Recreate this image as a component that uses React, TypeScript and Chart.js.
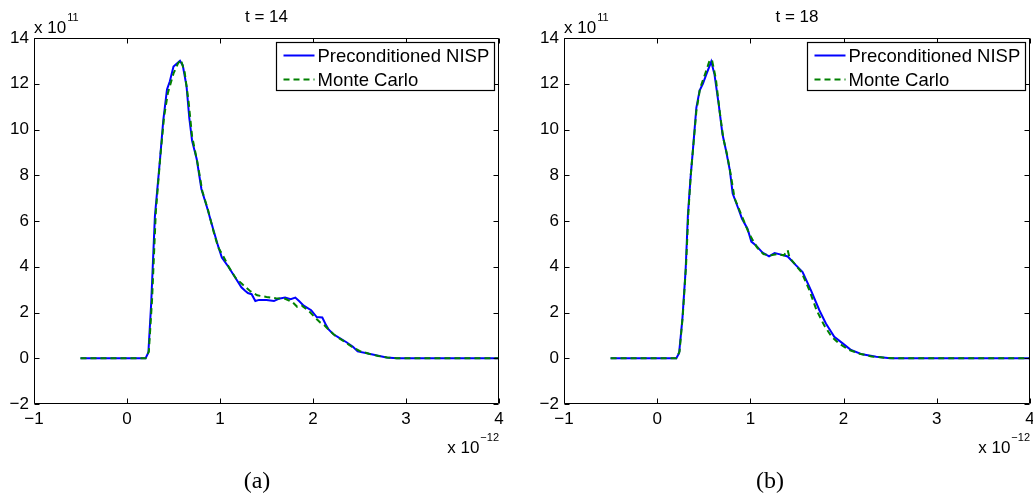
import { useEffect, useRef } from 'react';
import { Chart, registerables } from 'chart.js';

Chart.register(...registerables);

// Density profiles (values in units of 1e11, x in units of 1e-12)
const nispX14 = [-0.5, 0.0, 0.2, 0.23, 0.26, 0.3, 0.355, 0.39, 0.43, 0.46, 0.5, 0.57, 0.6, 0.64, 0.67, 0.7, 0.75, 0.8, 0.86, 0.93, 0.98, 1.02, 1.09, 1.16, 1.23, 1.27, 1.3, 1.34, 1.38, 1.42, 1.5, 1.58, 1.63, 1.7, 1.76, 1.81, 1.85, 1.9, 1.98, 2.04, 2.1, 2.14, 2.17, 2.22, 2.3, 2.36, 2.43, 2.48, 2.58, 2.69, 2.79, 2.9, 4.0];
const nispY14 = [0, 0, 0, 0.25, 2.4, 6.2, 8.7, 10.4, 11.75, 12.1, 12.75, 13.0, 12.8, 11.9, 10.5, 9.5, 8.7, 7.4, 6.6, 5.6, 4.9, 4.4, 4.0, 3.55, 3.1, 2.95, 2.85, 2.8, 2.5, 2.55, 2.55, 2.5, 2.6, 2.65, 2.58, 2.65, 2.5, 2.3, 2.1, 1.8, 1.78, 1.45, 1.25, 1.05, 0.85, 0.7, 0.5, 0.3, 0.22, 0.12, 0.03, 0, 0];
const mcX14 = [-0.5, 0.2, 0.235, 0.27, 0.31, 0.36, 0.4, 0.44, 0.5, 0.55, 0.58, 0.62, 0.66, 0.7, 0.76, 0.81, 0.87, 0.93, 0.98, 1.03, 1.1, 1.17, 1.25, 1.32, 1.4, 1.5, 1.6, 1.7, 1.78, 1.83, 1.88, 1.96, 2.03, 2.08, 2.12, 2.18, 2.25, 2.33, 2.42, 2.5, 2.6, 2.7, 2.8, 2.9, 4.0];
const mcY14 = [0, 0, 0.3, 2.6, 6.4, 8.9, 10.6, 11.6, 12.45, 12.9, 13.05, 12.5, 11.3, 9.7, 8.5, 7.3, 6.5, 5.55, 4.85, 4.5, 3.95, 3.5, 3.2, 2.95, 2.75, 2.68, 2.62, 2.6, 2.45, 2.25, 2.3, 2.05, 1.75, 1.55, 1.45, 1.2, 0.95, 0.75, 0.5, 0.32, 0.2, 0.1, 0.03, 0, 0];

const nispX18 = [-0.5, 0.205, 0.235, 0.27, 0.305, 0.33, 0.358, 0.385, 0.42, 0.455, 0.49, 0.526, 0.58, 0.615, 0.66, 0.7, 0.74, 0.78, 0.81, 0.865, 0.91, 0.97, 1.01, 1.06, 1.13, 1.2, 1.26, 1.33, 1.4, 1.49, 1.56, 1.65, 1.74, 1.81, 1.9, 1.99, 2.08, 2.2, 2.35, 2.5, 4.0];
const nispY18 = [0, 0, 0.22, 1.7, 3.85, 6.3, 7.9, 9.2, 10.95, 11.7, 12.0, 12.4, 12.97, 12.4, 11.1, 9.8, 9.05, 8.2, 7.2, 6.6, 6.1, 5.65, 5.1, 4.93, 4.62, 4.45, 4.6, 4.53, 4.45, 4.06, 3.77, 2.97, 2.1, 1.52, 0.94, 0.65, 0.36, 0.17, 0.07, 0, 0];
const mcX18 = [-0.5, 0.205, 0.24, 0.275, 0.31, 0.335, 0.36, 0.39, 0.42, 0.46, 0.52, 0.565, 0.59, 0.63, 0.67, 0.71, 0.75, 0.79, 0.83, 0.88, 0.93, 0.98, 1.02, 1.07, 1.14, 1.22, 1.29, 1.36, 1.4, 1.42, 1.48, 1.55, 1.63, 1.71, 1.79, 1.87, 1.95, 2.05, 2.17, 2.3, 2.45, 2.55, 4.0];
const mcY18 = [0, 0, 0.3, 1.9, 4.1, 6.4, 8.0, 9.4, 10.8, 11.8, 12.5, 13.05, 13.0, 12.2, 10.8, 9.6, 8.9, 8.0, 7.0, 6.5, 6.0, 5.5, 5.2, 4.85, 4.55, 4.5, 4.55, 4.5, 4.72, 4.4, 4.1, 3.75, 3.0, 2.1, 1.45, 0.95, 0.65, 0.38, 0.2, 0.08, 0.02, 0, 0];

const seriesNames = ['Preconditioned NISP', 'Monte Carlo'];
const panelTitles = ['t = 14', 't = 18'];
const panelLetters = ['(a)', '(b)'];
const yExponent = '11';
const xExponent = '\u221212';

const SANS = '"Liberation Sans", Arial, Helvetica, sans-serif';
const SERIF = '"Liberation Serif", "Times New Roman", serif';

const toPoints = (xs: number[], ys: number[]) => xs.map((x, i) => ({ x, y: ys[i] }));
const fmtTick = (v: number | string) => String(v).replace('-', '\u2212');

type PanelProps = {
  left: number;
  width: number;
  yAxisWidth: number;
  padRight: number;
  letterX: number;
  title: string;
  letter: string;
  nisp: any[];
  mc: any[];
};

function makeFramePlugin(title: string, letter: string, letterX: number) {
  return {
    id: 'matlabFrame',
    afterDraw(chart: any) {
      const { ctx, chartArea: a, scales } = chart;
      const xs = scales.x;
      const ys = scales.y;
      const L = Math.round(a.left) + 0.5;
      const R = Math.round(a.right) - 0.5;
      const T = Math.round(a.top) + 0.5;
      const B = Math.round(a.bottom) - 0.5;
      ctx.save();

      // axes box with inward ticks on every side
      ctx.strokeStyle = '#000';
      ctx.lineWidth = 1;
      ctx.beginPath();
      ctx.rect(L, T, R - L, B - T);
      const tick = 5;
      xs.ticks.forEach((t: any) => {
        const p = Math.round(xs.getPixelForValue(t.value)) + 0.5;
        ctx.moveTo(p, B);
        ctx.lineTo(p, B - tick);
        ctx.moveTo(p, T);
        ctx.lineTo(p, T + tick);
      });
      ys.ticks.forEach((t: any) => {
        const p = Math.round(ys.getPixelForValue(t.value)) + 0.5;
        ctx.moveTo(L, p);
        ctx.lineTo(L + tick, p);
        ctx.moveTo(R, p);
        ctx.lineTo(R - tick, p);
      });
      ctx.stroke();

      // legend box
      const boxW = 218;
      const boxH = 48;
      const bx = Math.round(a.right - 5 - boxW) + 0.5;
      const by = Math.round(a.top + 4) + 0.5;
      ctx.fillStyle = '#fff';
      ctx.fillRect(bx, by, boxW, boxH);
      ctx.strokeStyle = '#000';
      ctx.lineWidth = 1.2;
      ctx.strokeRect(bx, by, boxW, boxH);
      chart.data.datasets.forEach((ds: any, i: number) => {
        const rowY = by + 13 + i * 24;
        ctx.beginPath();
        ctx.strokeStyle = ds.borderColor;
        ctx.lineWidth = ds.borderWidth;
        ctx.setLineDash(ds.borderDash || []);
        ctx.moveTo(bx + 7, rowY);
        ctx.lineTo(bx + 38, rowY);
        ctx.stroke();
        ctx.setLineDash([]);
        ctx.fillStyle = '#000';
        ctx.font = `18.5px ${SANS}`;
        ctx.textAlign = 'left';
        ctx.textBaseline = 'middle';
        ctx.fillText(ds.label, bx + 41, rowY + 1);
      });

      // title
      ctx.fillStyle = '#000';
      ctx.font = `17px ${SANS}`;
      ctx.textAlign = 'center';
      ctx.textBaseline = 'middle';
      ctx.fillText(title, (a.left + a.right) / 2, 17);

      // y exponent
      ctx.textAlign = 'left';
      ctx.textBaseline = 'alphabetic';
      ctx.font = `17px ${SANS}`;
      ctx.fillText('x 10', a.left, 33);
      const w10 = ctx.measureText('x 10').width;
      ctx.font = `11px ${SANS}`;
      ctx.fillText(yExponent, a.left + w10 + 1, 21);

      // x exponent
      ctx.font = `11px ${SANS}`;
      ctx.textAlign = 'right';
      ctx.fillText(xExponent, a.right, 441);
      const wExp = ctx.measureText(xExponent).width;
      ctx.font = `17px ${SANS}`;
      ctx.fillText('x 10', a.right - wExp - 1, 453);

      // sub-figure letter
      ctx.font = `24px ${SERIF}`;
      ctx.textAlign = 'center';
      ctx.fillText(letter, letterX, 488);
      ctx.restore();
    },
  };
}

function Panel(props: PanelProps) {
  const ref = useRef<HTMLCanvasElement | null>(null);
  useEffect(() => {
    if (!ref.current) return;
    const tickFont = { family: SANS, size: 17 };
    const chart = new Chart(ref.current, {
      type: 'line',
      data: {
        datasets: [
          {
            label: seriesNames[0],
            data: props.nisp,
            borderColor: '#0000ff',
            borderWidth: 2,
            pointRadius: 0,
            tension: 0,
            fill: false,
            order: 1,
          },
          {
            label: seriesNames[1],
            data: props.mc,
            borderColor: '#008000',
            borderWidth: 2,
            borderDash: [6, 4],
            pointRadius: 0,
            tension: 0,
            fill: false,
            order: 0,
          },
        ],
      },
      options: {
        animation: false,
        responsive: false,
        events: [],
        layout: { padding: { left: 0, right: props.padRight, top: 38, bottom: 0 } },
        plugins: {
          legend: { display: false },
          tooltip: { enabled: false },
          title: { display: false },
        },
        scales: {
          x: {
            type: 'linear',
            min: -1,
            max: 4,
            ticks: { stepSize: 1, color: '#000', font: tickFont, padding: 5, maxRotation: 0, callback: (v: any) => fmtTick(v) },
            grid: { display: false, drawTicks: false },
            border: { display: false },
            afterFit: (s: any) => {
              s.height = 89;
              s.paddingLeft = 0;
              s.paddingRight = 0;
            },
          },
          y: {
            type: 'linear',
            min: -2,
            max: 14,
            ticks: { stepSize: 2, color: '#000', font: tickFont, padding: 5, callback: (v: any) => fmtTick(v) },
            grid: { display: false, drawTicks: false },
            border: { display: false },
            afterFit: (s: any) => {
              s.width = props.yAxisWidth;
              s.paddingTop = 0;
              s.paddingBottom = 0;
            },
          },
        },
      } as any,
      plugins: [makeFramePlugin(props.title, props.letter, props.letterX)],
    });
    return () => chart.destroy();
  }, []);
  return (
    <canvas
      ref={ref}
      width={props.width}
      height={493}
      style={{ position: 'absolute', left: props.left, top: 0, width: props.width, height: 493, display: 'block' }}
    />
  );
}

export default function App() {
  return (
    <div style={{ position: 'fixed', left: 0, top: 0, width: 1033, height: 493, background: '#fff', overflow: 'hidden' }}>
      <Panel
        left={0}
        width={516}
        yAxisWidth={34}
        padRight={17}
        letterX={257}
        title={panelTitles[0]}
        letter={panelLetters[0]}
        nisp={toPoints(nispX14, nispY14)}
        mc={toPoints(mcX14, mcY14)}
      />
      <Panel
        left={516}
        width={517}
        yAxisWidth={48}
        padRight={3}
        letterX={254}
        title={panelTitles[1]}
        letter={panelLetters[1]}
        nisp={toPoints(nispX18, nispY18)}
        mc={toPoints(mcX18, mcY18)}
      />
    </div>
  );
}
